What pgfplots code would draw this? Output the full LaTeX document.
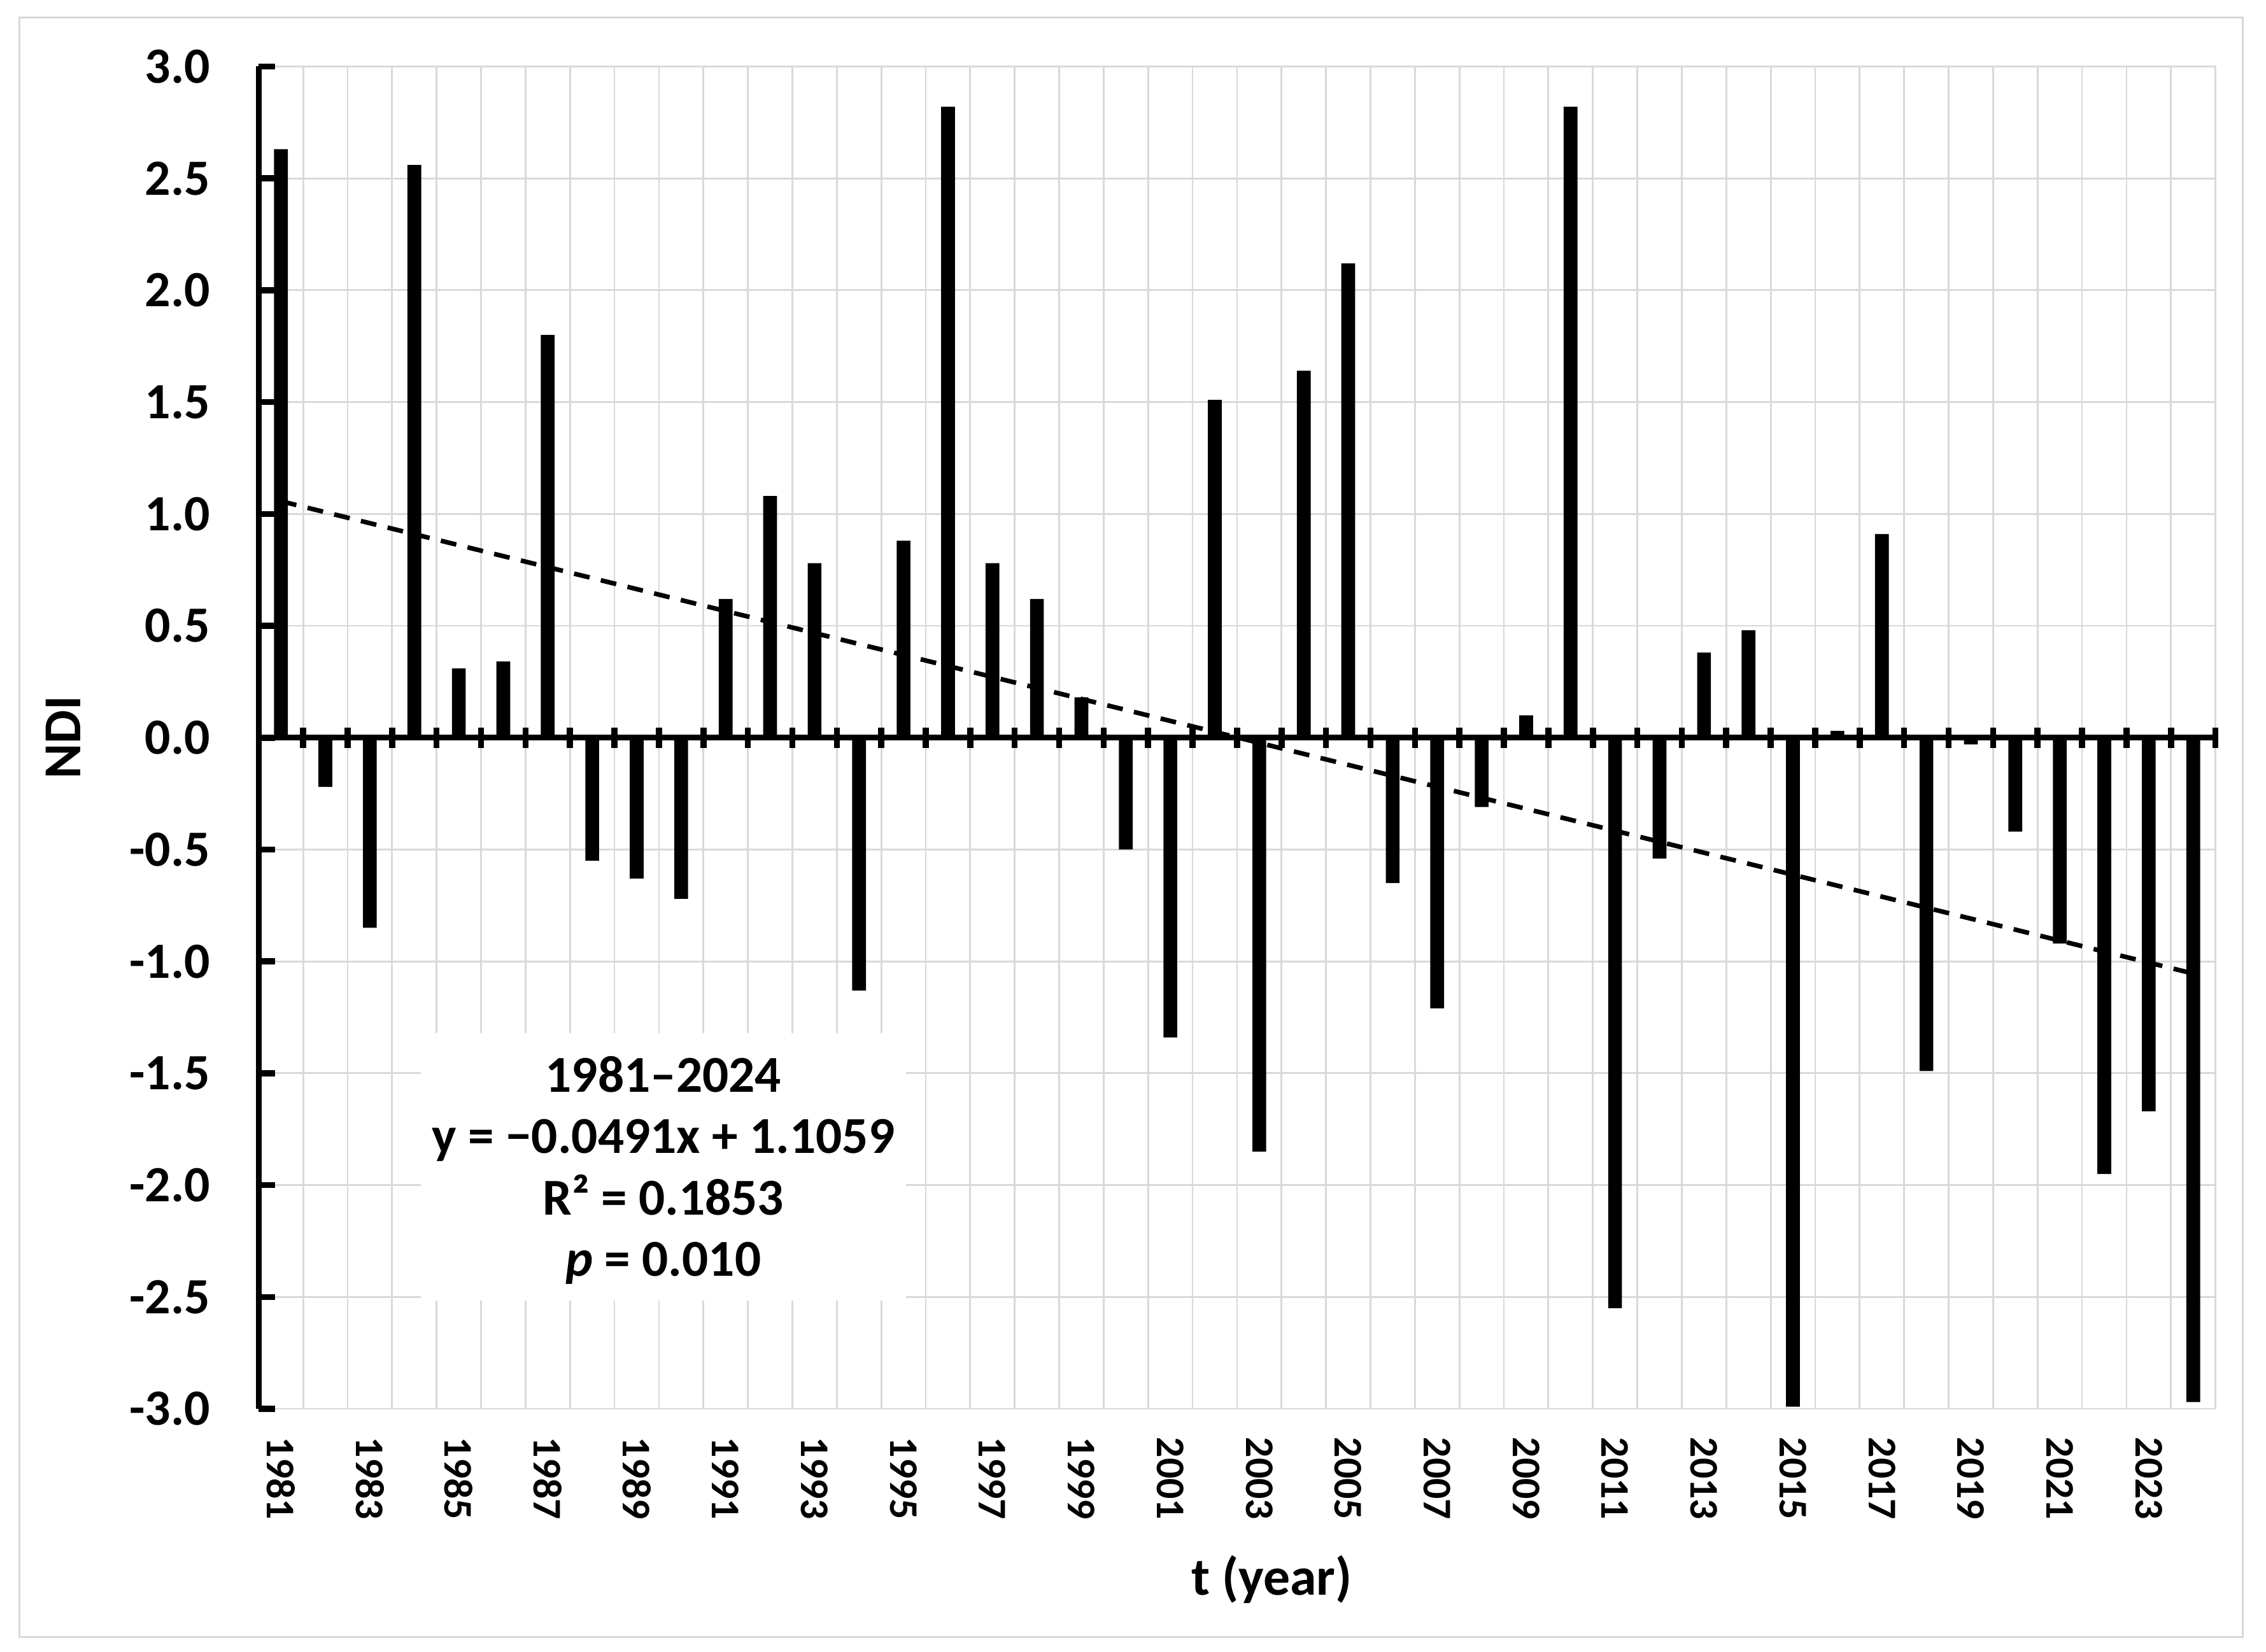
\documentclass[border=0pt]{standalone}
\usepackage{pgfplots}
\pgfplotsset{compat=1.18}
\usepackage{pgfplotstable}
\usepackage{fontspec}
\setmainfont{Carlito}
\definecolor{gridgray}{HTML}{D9D9D9}

\pgfplotstableread{
x y
1 2.63
2 -0.22
3 -0.85
4 2.56
5 0.31
6 0.34
7 1.80
8 -0.55
9 -0.63
10 -0.72
11 0.62
12 1.08
13 0.78
14 -1.13
15 0.88
16 2.82
17 0.78
18 0.62
19 0.18
20 -0.50
21 -1.34
22 1.51
23 -1.85
24 1.64
25 2.12
26 -0.65
27 -1.21
28 -0.31
29 0.10
30 2.82
31 -2.55
32 -0.54
33 0.38
34 0.48
35 -2.99
36 0.03
37 0.91
38 -1.49
39 -0.03
40 -0.42
41 -0.92
42 -1.95
43 -1.67
44 -2.97
}\ndidata

\pgfplotstableread{
x y
1 1.0568
44 -1.0545
}\trenddata

\begin{document}
\begin{tikzpicture}
\path (0,0) rectangle (156.8mm,114.3mm);
\draw[gridgray, line width=0.4pt] (1.35mm,1.0mm) rectangle (155.2mm,113.1mm);
\begin{axis}[
  at={(17.9mm,16.8mm)}, anchor=south west,
  scale only axis, width=135.4mm, height=92.9mm,
  xmin=0.5, xmax=44.5, ymin=-3, ymax=3,
  axis x line*=bottom, axis y line*=left,
  x axis line style={draw=none},
  y axis line style={line width=1.2pt, black},
  tick align=inside,
  major tick length=1.15mm,
  y tick style={line width=1.2pt, black},
  x tick style={draw=none},
  ytick={-3,-2.5,-2,-1.5,-1,-0.5,0,0.5,1,1.5,2,2.5,3},
  yticklabels={-3.0,-2.5,-2.0,-1.5,-1.0,-0.5,0.0,0.5,1.0,1.5,2.0,2.5,3.0},
  yticklabel style={font=\bfseries\fontsize{10}{12}\selectfont, inner sep=0pt},
  yticklabel shift=3.3mm,
  xtick={1,3,5,7,9,11,13,15,17,19,21,23,25,27,29,31,33,35,37,39,41,43},
  xticklabels={1981,1983,1985,1987,1989,1991,1993,1995,1997,1999,2001,2003,2005,2007,2009,2011,2013,2015,2017,2019,2021,2023},
  xticklabel style={rotate=-90, anchor=west, font=\bfseries\fontsize{8}{9}\selectfont, inner sep=0pt},
  xticklabel shift=1.9mm,
  minor xtick={0.5,1.5,...,44.5},
  ymajorgrids=true, xminorgrids=true, xmajorgrids=false,
  major grid style={gridgray, line width=0.35pt},
  minor grid style={gridgray, line width=0.35pt},
  ylabel={NDI},
  ylabel style={at={(axis description cs:-0.0999,0.5)}, anchor=center, font=\bfseries\fontsize{10.5}{12}\selectfont},
  xlabel={t (year)},
  xlabel style={at={(axis description cs:0.5177,-0.127)}, anchor=center, font=\bfseries\fontsize{10.5}{12}\selectfont},
]
\addplot[ybar, bar width=0.31, fill=black, draw=none] table[x=x, y=y] {\ndidata};
\addplot[black, line width=0.9pt, dash pattern=on 1.1mm off 0.8mm] table[x=x, y=y] {\trenddata};
\fill[white] (axis cs:4.14,-1.32) rectangle (axis cs:15.06,-2.515);
\node[align=center, inner sep=0pt, font=\bfseries\fontsize{10.2}{12.1}\selectfont] at (axis cs:9.6,-1.934)
  {1981–2024\\y = −0.0491x + 1.1059\\R² = 0.1853\\\textit{p} = 0.010};
\end{axis}
\begin{axis}[
  at={(17.9mm,16.8mm)}, anchor=south west,
  scale only axis, width=135.4mm, height=92.9mm,
  xmin=0.5, xmax=44.5, ymin=-3, ymax=3,
  axis x line*=middle, axis y line=none,
  x axis line style={line width=1.2pt, black},
  xtick={1.5,2.5,...,44.5}, xticklabels={},
  ytick=\empty,
  tick align=center, major tick length=1.4mm,
  x tick style={line width=1.2pt, black},
]
\addplot[draw=none] coordinates {(1,0)};
\end{axis}
\end{tikzpicture}
\end{document}
